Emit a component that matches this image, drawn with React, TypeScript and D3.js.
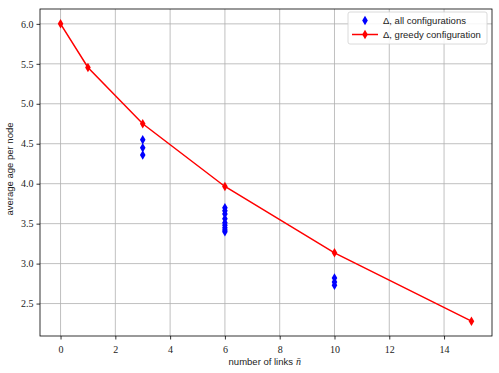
import React, { useEffect, useRef } from "react";
import * as d3 from "d3";

// greedy configuration
const greedyLinks = [0, 1, 3, 6, 10, 15];
const greedyAge = [6.0, 5.455, 4.75, 3.965, 3.135, 2.28];

// all configurations
const allLinks = [3, 3, 3, 6, 6, 6, 6, 6, 6, 6, 6, 6, 10, 10, 10];
const allAge = [4.55, 4.45, 4.36, 3.7, 3.66, 3.62, 3.56, 3.51, 3.48, 3.45, 3.42, 3.4, 2.82, 2.77, 2.73];

const xTicks = [0, 2, 4, 6, 8, 10, 12, 14];
const yTicks = [2.5, 3.0, 3.5, 4.0, 4.5, 5.0, 5.5, 6.0];

const legendLabels = ["\u0394, all configurations", "\u0394, greedy configuration"];

const W = 499;
const H = 373;
const serif = "'Liberation Serif', 'DejaVu Serif', serif";
const sans = "'Liberation Sans', 'DejaVu Sans', sans-serif";

const diamond = (cx: number, cy: number, w = 5.6, h = 9.5) =>
  `M${cx},${cy - h / 2}L${cx + w / 2},${cy}L${cx},${cy + h / 2}L${cx - w / 2},${cy}Z`;

export default function App() {
  const ref = useRef<SVGSVGElement>(null);

  useEffect(() => {
    document.body.style.margin = "0";
    const svg = d3.select(ref.current);
    svg.selectAll("*").remove();

    const left = 40, right = 492, top = 9, bottom = 336;
    const x = d3.scaleLinear().domain([-0.75, 15.75]).range([left, right]);
    const y = d3.scaleLinear().domain([2.094, 6.186]).range([bottom, top]);

    svg.append("rect").attr("width", W).attr("height", H).attr("fill", "#fff");

    const g = svg.append("g");

    // grid
    g.selectAll(".gx")
      .data(xTicks)
      .join("line")
      .attr("x1", (d) => x(d)).attr("x2", (d) => x(d))
      .attr("y1", top).attr("y2", bottom)
      .attr("stroke", "#b0b0b0").attr("stroke-width", 0.8);
    g.selectAll(".gy")
      .data(yTicks)
      .join("line")
      .attr("y1", (d) => y(d)).attr("y2", (d) => y(d))
      .attr("x1", left).attr("x2", right)
      .attr("stroke", "#b0b0b0").attr("stroke-width", 0.8);

    // axes
    const xAxis = g.append("g").attr("transform", `translate(0,${bottom})`)
      .call(d3.axisBottom(x).tickValues(xTicks).tickSizeOuter(0).tickSize(3.5).tickFormat(d3.format("d")));
    const yAxis = g.append("g").attr("transform", `translate(${left},0)`)
      .call(d3.axisLeft(y).tickValues(yTicks).tickSizeOuter(0).tickSize(3.5).tickFormat(d3.format(".1f")));
    [xAxis, yAxis].forEach((a) => {
      a.select(".domain").remove();
      a.selectAll("line").attr("stroke", "#000").attr("stroke-width", 0.8);
      a.selectAll("text").attr("font-family", serif).attr("font-size", 10).attr("fill", "#222");
    });
    xAxis.selectAll("text").attr("dy", "1.0em");

    // blue: all configurations
    g.selectAll(".all")
      .data(allLinks.map((l, i) => [l, allAge[i]]))
      .join("path")
      .attr("d", (d) => diamond(x(d[0]), y(d[1])))
      .attr("fill", "#0000ff");

    // red: greedy
    const line = d3.line<number>().x((_, i) => x(greedyLinks[i])).y((d) => y(d));
    g.append("path").attr("d", line(greedyAge)).attr("fill", "none")
      .attr("stroke", "#ff0000").attr("stroke-width", 1.5);
    g.selectAll(".greedy")
      .data(greedyAge)
      .join("path")
      .attr("d", (d, i) => diamond(x(greedyLinks[i]), y(d)))
      .attr("fill", "#ff0000");

    // frame
    g.append("rect").attr("x", left).attr("y", top)
      .attr("width", right - left).attr("height", bottom - top)
      .attr("fill", "none").attr("stroke", "#000").attr("stroke-width", 0.8);

    // labels
    svg.append("text").attr("x", 293).attr("y", 365)
      .attr("text-anchor", "end").attr("font-family", sans).attr("font-size", 9.5).attr("fill", "#222")
      .text("number of links");
    svg.append("text").attr("x", 296).attr("y", 365)
      .attr("font-family", serif).attr("font-style", "italic").attr("font-size", 10).attr("fill", "#222")
      .text("n\u0304");

    svg.append("text")
      .attr("transform", `translate(13,169) rotate(-90)`)
      .attr("text-anchor", "middle").attr("font-family", sans).attr("font-size", 9.5).attr("fill", "#222")
      .text("average age per node");

    // legend
    const lg = svg.append("g");
    lg.append("rect").attr("x", 348).attr("y", 12).attr("width", 139).attr("height", 32)
      .attr("rx", 2).attr("fill", "#fff").attr("fill-opacity", 0.85)
      .attr("stroke", "#d0d0d0").attr("stroke-width", 0.8);
    lg.append("path").attr("d", diamond(365, 20.5)).attr("fill", "#0000ff");
    lg.append("line").attr("x1", 352).attr("x2", 378).attr("y1", 34.5).attr("y2", 34.5)
      .attr("stroke", "#ff0000").attr("stroke-width", 1.5);
    lg.append("path").attr("d", diamond(365, 34.5)).attr("fill", "#ff0000");
    lg.selectAll(".lt")
      .data(legendLabels)
      .join("text")
      .attr("x", 383).attr("y", (_, i) => 24 + i * 14)
      .attr("font-family", sans).attr("font-size", 9.5).attr("fill", "#222")
      .text((d) => d);
  }, []);

  return <svg ref={ref} width={W} height={H} style={{ display: "block" }} />;
}
